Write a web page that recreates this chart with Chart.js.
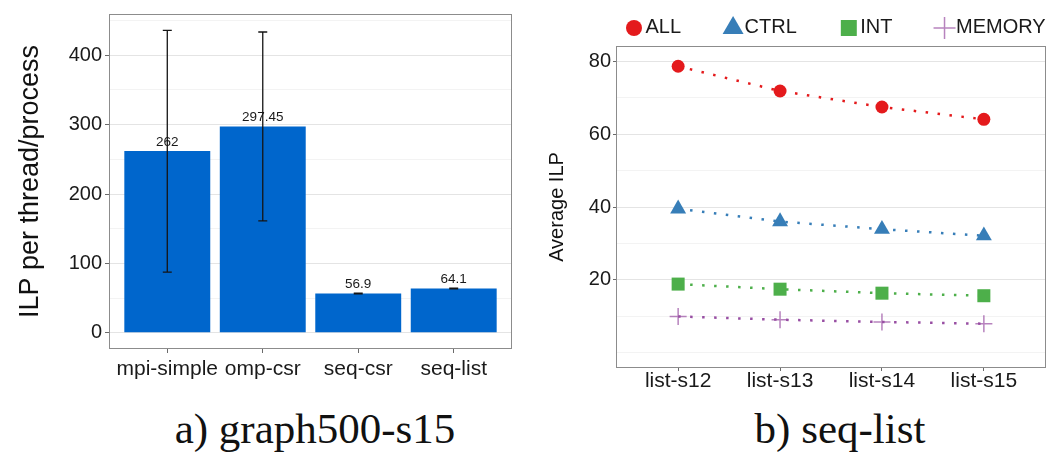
<!DOCTYPE html>
<html>
<head>
<meta charset="utf-8">
<title>ILP per thread/process and average ILP</title>
<script src="https://cdn.jsdelivr.net/npm/chart.js@4.4.1/dist/chart.umd.min.js"></script>
<style>
  html, body { margin: 0; padding: 0; background: #fff; width: 1046px; height: 454px; overflow: hidden; }
  canvas { position: absolute; top: 0; }
  .caption {
    position: absolute; top: 407px; line-height: 1; white-space: nowrap;
    font-family: "Liberation Serif", "DejaVu Serif", serif; font-size: 43px; color: #111;
    transform: translateX(-50%);
  }
</style>
</head>
<body>
<canvas id="ilpBars" width="520" height="400" style="left:0"></canvas>
<canvas id="ilpTrend" width="516" height="400" style="left:530px"></canvas>
<div class="caption" style="left:315px">a) graph500-s15</div>
<div class="caption" style="left:840px">b) seq-list</div>

<script>
// ---- a) graph500-s15 : ILP per thread/process ----
const programs = ['mpi-simple', 'omp-csr', 'seq-csr', 'seq-list'];
const ilpMean = [262, 297.45, 56.9, 64.1];
const ilpLow = [87.5, 161.5, 56.4, 63.6];
const ilpHigh = [435.8, 433.5, 57.4, 64.6];
const barGridValues = [0, 50, 100, 150, 200, 250, 300, 350, 400, 450];
const barTickLabels = [0, 100, 200, 300, 400];

// ---- b) seq-list : average ILP by instruction class ----
const inputs = ['list-s12', 'list-s13', 'list-s14', 'list-s15'];
const ilpAll = [78.7, 71.9, 67.5, 64.1];
const ilpCtrl = [39.5, 36.0, 33.9, 32.1];
const ilpInt = [18.8, 17.4, 16.3, 15.6];
const ilpMemory = [9.9, 9.0, 8.4, 7.9];
const trendGridValues = [0, 10, 20, 30, 40, 50, 60, 70, 80];
const trendTickLabels = [20, 40, 60, 80];

const FONT = "'Liberation Sans', Arial, sans-serif";
const TEXT = '#1a1a1a';
const GRID_MAJOR = '#e4e4e4';
const GRID_MINOR = '#f3f3f3';
const TICK_MARK = '#6a6a6a';
const FRAME = '#8c8c8c';

Chart.defaults.font.family = FONT;
Chart.defaults.color = TEXT;

// theme_bw style frame around the plotting panel
const panelFrame = {
  id: 'panelFrame',
  afterDraw(chart) {
    const { ctx, chartArea: a } = chart;
    ctx.save();
    ctx.strokeStyle = FRAME;
    ctx.lineWidth = 1;
    ctx.strokeRect(Math.round(a.left) - 0.5, Math.round(a.top) - 0.5,
                   Math.round(a.right - a.left) + 1, Math.round(a.bottom - a.top) + 1);
    ctx.restore();
  }
};

// value labels above the bars, then the min/max whiskers
const barAnnotations = {
  id: 'barAnnotations',
  afterDatasetsDraw(chart) {
    const { ctx } = chart;
    const yScale = chart.scales.y;
    const bars = chart.getDatasetMeta(0).data;
    ctx.save();
    ctx.font = '13.5px ' + FONT;
    ctx.fillStyle = TEXT;
    ctx.textAlign = 'center';
    ctx.textBaseline = 'alphabetic';
    bars.forEach((bar, i) => {
      ctx.fillText(String(ilpMean[i]), bar.x, bar.y - 5);
    });
    ctx.strokeStyle = '#151515';
    ctx.lineWidth = 1.3;
    bars.forEach((bar, i) => {
      const top = yScale.getPixelForValue(ilpHigh[i]);
      const bottom = yScale.getPixelForValue(ilpLow[i]);
      const half = 4.5;
      ctx.beginPath();
      ctx.moveTo(bar.x, top); ctx.lineTo(bar.x, bottom);
      ctx.moveTo(bar.x - half, top); ctx.lineTo(bar.x + half, top);
      ctx.moveTo(bar.x - half, bottom); ctx.lineTo(bar.x + half, bottom);
      ctx.stroke();
    });
    ctx.restore();
  }
};

// horizontal key across the top of the trend panel
const seriesKey = {
  id: 'seriesKey',
  afterDraw(chart, args, opts) {
    const { ctx } = chart;
    ctx.save();
    ctx.font = opts.fontSize + 'px ' + FONT;
    ctx.textBaseline = 'middle';
    ctx.textAlign = 'left';
    let cx = opts.x;
    chart.data.datasets.forEach((ds, i) => {
      ctx.fillStyle = ds.pointBackgroundColor;
      ctx.strokeStyle = ds.pointBorderColor;
      ctx.lineWidth = ds.pointBorderWidth;
      Chart.helpers.drawPoint(ctx, {
        pointStyle: ds.pointStyle,
        radius: opts.radius[i],
        rotation: 0,
        borderWidth: ds.pointBorderWidth
      }, cx, opts.markerY);
      ctx.fillStyle = TEXT;
      ctx.fillText(ds.label, cx + opts.textGap, opts.textY);
      cx += opts.textGap + ctx.measureText(ds.label).width + opts.itemGap;
    });
    ctx.restore();
  }
};

const tickSet = values => scale => { scale.ticks = values.map(v => ({ value: v })); };

// ---------- bar panel ----------
new Chart(document.getElementById('ilpBars'), {
  type: 'bar',
  data: {
    datasets: [{
      label: 'ILP',
      data: programs.map((p, i) => ({ x: i, y: ilpMean[i] })),
      backgroundColor: '#0066cc',
      borderWidth: 0,
      barPercentage: 0.9,
      categoryPercentage: 1
    }]
  },
  options: {
    responsive: false,
    animation: false,
    events: [],
    layout: { autoPadding: false, padding: { top: 13, right: 9, left: 0, bottom: 0 } },
    plugins: { legend: { display: false }, tooltip: { enabled: false } },
    scales: {
      x: {
        type: 'linear', min: -0.6, max: 3.6, offset: false,
        afterBuildTicks: tickSet(programs.map((p, i) => i)),
        afterFit: s => { s.height = 52; },
        ticks: {
          callback: v => programs[v] ?? '',
          font: { size: 21, lineHeight: 1 }, padding: 6, color: TEXT,
          autoSkip: false, maxRotation: 0
        },
        grid: { drawOnChartArea: false, drawTicks: true, tickLength: 5, tickColor: TICK_MARK, offset: false },
        border: { display: false }
      },
      y: {
        min: -21.8, max: 458,
        afterBuildTicks: tickSet(barGridValues),
        afterFit: s => { s.width = 110; },
        ticks: {
          callback: v => barTickLabels.includes(v) ? String(v) : '',
          font: { size: 20 }, padding: 3, color: TEXT, autoSkip: false
        },
        grid: {
          color: c => (c.tick && barTickLabels.includes(c.tick.value)) ? GRID_MAJOR : GRID_MINOR,
          tickColor: c => (c.tick && barTickLabels.includes(c.tick.value)) ? TICK_MARK : 'rgba(0,0,0,0)',
          tickLength: 5, lineWidth: 1
        },
        border: { display: false },
        title: {
          display: true, text: 'ILP per thread/process', color: '#111',
          font: { size: 27, lineHeight: 1 }, padding: { top: 17, bottom: 0 }
        }
      }
    }
  },
  plugins: [barAnnotations, panelFrame]
});

// ---------- trend panel ----------
const asPoints = values => values.map((v, i) => ({ x: i, y: v }));
const dotted = { borderDash: [2.5, 9.5], borderWidth: 2.5, borderCapStyle: 'butt', fill: false, tension: 0 };

new Chart(document.getElementById('ilpTrend'), {
  type: 'line',
  data: {
    datasets: [
      Object.assign({
        label: 'ALL', data: asPoints(ilpAll), borderColor: '#e41a1c',
        pointStyle: 'circle', pointRadius: 6.5, pointBackgroundColor: '#e41a1c',
        pointBorderColor: '#e41a1c', pointBorderWidth: 0
      }, dotted),
      Object.assign({
        label: 'CTRL', data: asPoints(ilpCtrl), borderColor: '#377eb8',
        pointStyle: 'triangle', pointRadius: 9.2, pointBackgroundColor: '#377eb8',
        pointBorderColor: '#377eb8', pointBorderWidth: 0
      }, dotted),
      Object.assign({
        label: 'INT', data: asPoints(ilpInt), borderColor: '#4daf4a',
        pointStyle: 'rect', pointRadius: 9.2, pointBackgroundColor: '#4daf4a',
        pointBorderColor: '#4daf4a', pointBorderWidth: 0
      }, dotted),
      Object.assign({
        label: 'MEMORY', data: asPoints(ilpMemory), borderColor: '#984ea3',
        pointStyle: 'cross', pointRadius: 8.5, pointBackgroundColor: 'rgba(0,0,0,0)',
        pointBorderColor: 'rgba(152,78,163,0.7)', pointBorderWidth: 1.5
      }, dotted)
    ]
  },
  options: {
    responsive: false,
    animation: false,
    events: [],
    layout: { autoPadding: false, padding: { top: 47, right: 1, left: 0, bottom: 0 } },
    plugins: {
      legend: { display: false },
      tooltip: { enabled: false },
      seriesKey: {
        x: 104, markerY: 28, textY: 27.5, fontSize: 20,
        textGap: 11.5, itemGap: 52,
        radius: [8, 12.1, 11.3, 11]
      }
    },
    scales: {
      x: {
        type: 'linear', min: -0.6, max: 3.6, offset: false,
        afterBuildTicks: tickSet(inputs.map((p, i) => i)),
        afterFit: s => { s.height = 33; },
        ticks: {
          callback: v => inputs[v] ?? '',
          font: { size: 21, lineHeight: 1 }, padding: 0, color: TEXT,
          autoSkip: false, maxRotation: 0
        },
        grid: { drawOnChartArea: false, drawTicks: true, tickLength: 4, tickColor: TICK_MARK },
        border: { display: false }
      },
      y: {
        min: -4, max: 84,
        afterBuildTicks: tickSet(trendGridValues),
        afterFit: s => { s.width = 87; },
        ticks: {
          callback: v => trendTickLabels.includes(v) ? String(v) : '',
          font: { size: 20 }, padding: 2, color: TEXT, autoSkip: false
        },
        grid: {
          color: c => (c.tick && trendTickLabels.includes(c.tick.value)) ? GRID_MAJOR : GRID_MINOR,
          tickColor: c => (c.tick && trendTickLabels.includes(c.tick.value)) ? TICK_MARK : 'rgba(0,0,0,0)',
          tickLength: 4, lineWidth: 1
        },
        border: { display: false },
        title: {
          display: true, text: 'Average ILP', color: '#111',
          font: { size: 20, lineHeight: 1 }, padding: { top: 17.4, bottom: 0 }
        }
      }
    }
  },
  plugins: [seriesKey, panelFrame]
});
</script>
</body>
</html>
